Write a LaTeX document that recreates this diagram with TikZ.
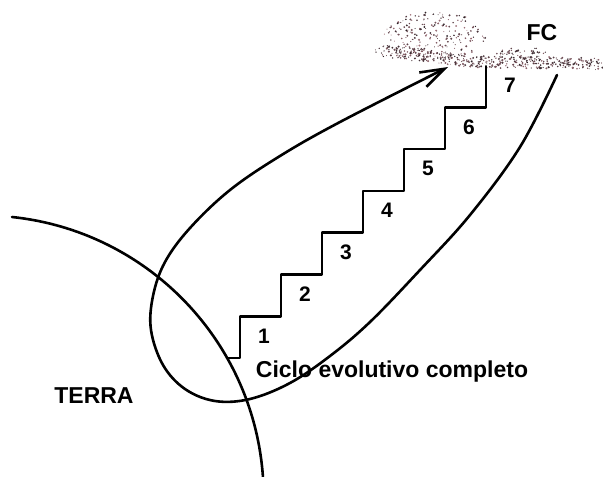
\documentclass[tikz,border=0pt]{standalone}
\usepackage{fontspec}
\setmainfont{Liberation Sans}
\usetikzlibrary{arrows.meta}

\definecolor{speckdark}{RGB}{40,30,35}
\definecolor{specktint}{RGB}{200,140,150}

\begin{document}
\begin{tikzpicture}[
      x=1pt, y=-1pt,
      line/.style={line width=2.6pt, line join=round, line cap=round},
      num/.style={font=\bfseries\fontsize{21}{24}\selectfont, inner sep=0pt},
      lbl/.style={font=\bfseries\fontsize{23}{26}\selectfont, inner sep=0pt},
      tip/.style={-{Straight Barb[length=24pt, width=16pt]}},
      speck/.style={fill=speckdark!#1!specktint},
    ]
    \useasboundingbox (0,0) rectangle (603,477);

    % --- the speckled cloud -----------------------------------------------
    \pgfmathsetseed{11}
    % loose top of the cloud
    \foreach \i in {1,...,230} {
      \pgfmathsetmacro\ang{360*rnd}
      \pgfmathsetmacro\rad{sqrt(rnd)}
      \pgfmathsetmacro\sz{0.45+0.7*rnd}
      \pgfmathtruncatemacro\pct{25+75*rnd}
      \fill[speck=\pct] ({434+52*\rad*cos(\ang)},{36+24*\rad*sin(\ang)})
        circle[radius=\sz];
    }
    % denser rim along the bottom edge
    \foreach \xa/\ya/\xb/\yb/\w/\n in {378/50/482/63/6/200,
                                        482/62/603/64/6/240,
                                        496/54/545/52/5/50} {
      \foreach \i in {1,...,\n} {
        \pgfmathsetmacro\t{rnd}
        \pgfmathsetmacro\px{\xa+(\xb-\xa)*\t+2*\w*(rnd-0.5)}
        \pgfmathsetmacro\py{\ya+(\yb-\ya)*\t+2*\w*(rnd-0.5)}
        \pgfmathsetmacro\sz{0.45+0.7*rnd}
        \pgfmathtruncatemacro\pct{35+65*rnd}
        \fill[speck=\pct] (\px,\py) circle[radius=\sz];
      }
    }
    \node[lbl] (fc) at (542,33) {FC};
    \coordinate (cloud) at (448,67);

    % --- earth boundary (circle round (-17,497)) --------------------------
    \draw[line] (12,217) arc[start angle=-84, end angle=-4, radius=281];
    \node[lbl] (terra) at (94,396) {TERRA};

    % --- the loop from the cloud round the earth and back -----------------
    \draw[line, tip] plot[smooth, tension=0.6] coordinates {
        (557,75) (520,147) (470,215) (420,270) (370,322) (330,356)
        (290,383) (250,399) (215,401) (185,389) (163,365) (151,330)
        (153,296) (165,262) (190,228) (230,190) (280,156) (340,122)
        (cloud)};

    % --- seven steps ------------------------------------------------------
    \draw[line] (227,358) -- (240,358)
      \foreach \k in {1,...,6} { -- ++(0,-41.8) -- ++(41,0) } -- ++(0,-41);
    \foreach \k in {1,...,7}
      \node[num] (n\k) at ({240+41*(\k-1)+24},{358-41.8*(\k-1)-22}) {\k};

    \node[lbl] (ciclo) at (392,372) {Ciclo evolutivo completo};
  \end{tikzpicture}
\end{document}
